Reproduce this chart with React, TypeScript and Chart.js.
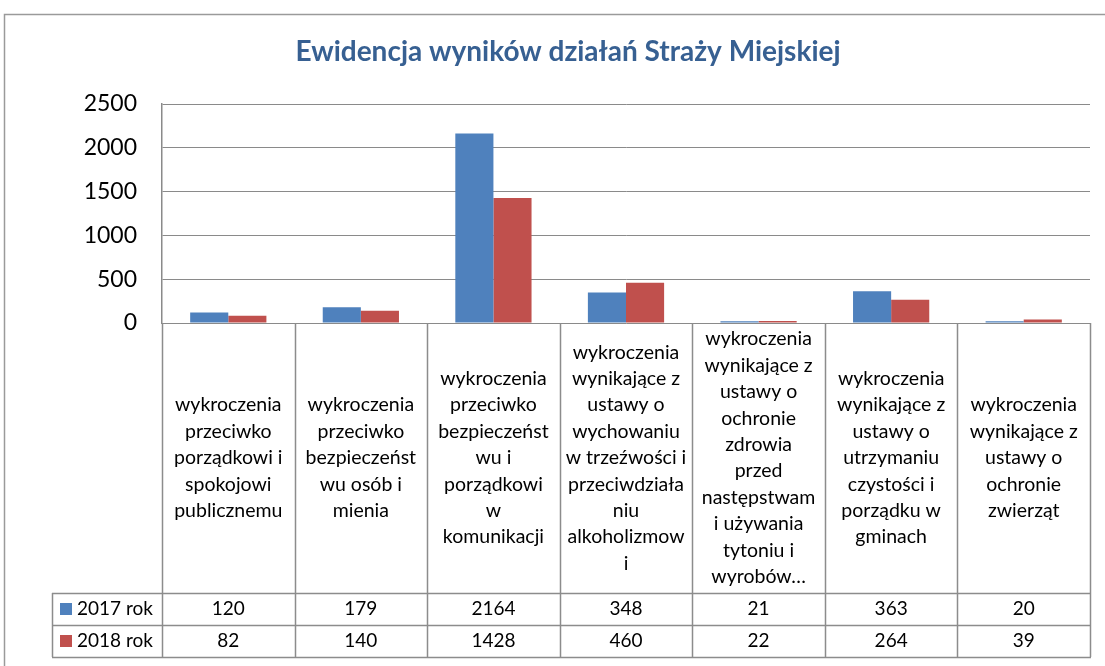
import React, { useEffect, useRef } from "react";
import { Chart, registerables } from "chart.js";

Chart.register(...registerables);

const chartTitle = "Ewidencja wyników działań Straży Miejskiej";

const categories: string[][] = [
  ["wykroczenia", "przeciwko", "porządkowi i", "spokojowi", "publicznemu"],
  ["wykroczenia", "przeciwko", "bezpieczeńst", "wu osób i", "mienia"],
  ["wykroczenia", "przeciwko", "bezpieczeńst", "wu i", "porządkowi", "w", "komunikacji"],
  ["wykroczenia", "wynikające z", "ustawy o", "wychowaniu", "w trzeźwości i", "przeciwdziała", "niu", "alkoholizmow", "i"],
  ["wykroczenia", "wynikające z", "ustawy o", "ochronie", "zdrowia", "przed", "następstwam", "i używania", "tytoniu i", "wyrobów…"],
  ["wykroczenia", "wynikające z", "ustawy o", "utrzymaniu", "czystości i", "porządku w", "gminach"],
  ["wykroczenia", "wynikające z", "ustawy o", "ochronie", "zwierząt"],
];

const seriesNames = ["2017 rok", "2018 rok"];
const values2017 = [120, 179, 2164, 348, 21, 363, 20];
const values2018 = [82, 140, 1428, 460, 22, 264, 39];
const seriesColors = ["#4F81BD", "#C0504D"];
const yTicks = [0, 500, 1000, 1500, 2000, 2500];

const FONT = "Lato, 'Open Sans', sans-serif";

const tablePlugin = {
  id: "excelTable",
  beforeDraw(chart: any) {
    const ctx = chart.ctx;
    ctx.save();
    ctx.fillStyle = "#ffffff";
    ctx.fillRect(0, 0, chart.width, chart.height);
    ctx.strokeStyle = "#9a9a9a";
    ctx.lineWidth = 1.5;
    ctx.strokeRect(4.5, 14.5, chart.width + 40, chart.height + 40);
    ctx.restore();
  },
  afterDraw(chart: any) {
    const { ctx, chartArea } = chart;
    const xs = chart.scales.x;
    const labels = chart.data.labels as string[][];
    const n = labels.length;
    const left = chartArea.left;
    const right = chartArea.right;
    const top = chartArea.bottom;
    const headerBottom = top + 270;
    const rowH = 32;
    const tableLeft = 52;
    const colW = (right - left) / n;
    const tableBottom = headerBottom + rowH * chart.data.datasets.length;

    ctx.save();
    // title
    ctx.fillStyle = "#376092";
    ctx.font = `bold 28px ${FONT}`;
    ctx.textAlign = "center";
    ctx.textBaseline = "middle";
    ctx.fillText(chartTitle, 568, 52);

    // table lines
    ctx.strokeStyle = "#8c8c8c";
    ctx.lineWidth = 1.5;
    ctx.beginPath();
    for (let i = 0; i <= n; i++) {
      const x = Math.round(left + i * colW) + 0.5;
      ctx.moveTo(x, top);
      ctx.lineTo(x, tableBottom);
    }
    ctx.moveTo(tableLeft + 0.5, headerBottom);
    ctx.lineTo(tableLeft + 0.5, tableBottom);
    for (let r = 0; r <= chart.data.datasets.length; r++) {
      const y = Math.round(headerBottom + r * rowH) + 0.5;
      ctx.moveTo(tableLeft, y);
      ctx.lineTo(right + 1, y);
    }
    ctx.stroke();

    // category labels
    ctx.fillStyle = "#000000";
    ctx.font = `19.5px ${FONT}`;
    const lh = 26.4;
    const cy = (top + headerBottom) / 2;
    labels.forEach((lines, i) => {
      const cx = xs.getPixelForValue(i);
      const start = cy - ((lines.length - 1) * lh) / 2;
      lines.forEach((line, k) => ctx.fillText(line, cx, start + k * lh));
    });

    // data rows
    ctx.font = `19px ${FONT}`;
    chart.data.datasets.forEach((ds: any, r: number) => {
      const y = headerBottom + r * rowH + rowH / 2;
      ctx.fillStyle = ds.backgroundColor;
      ctx.fillRect(60, y - 6, 12, 12);
      ctx.fillStyle = "#000000";
      ctx.textAlign = "left";
      ctx.fillText(ds.label, 77, y);
      ctx.textAlign = "center";
      ds.data.forEach((v: number, i: number) => {
        ctx.fillText(String(v), xs.getPixelForValue(i), y);
      });
    });
    ctx.restore();
  },
};

export default function App() {
  const ref = useRef<HTMLCanvasElement | null>(null);

  useEffect(() => {
    if (!ref.current) return;
    const chart = new Chart(ref.current, {
      type: "bar",
      data: {
        labels: categories,
        datasets: [
          { label: seriesNames[0], data: values2017, backgroundColor: seriesColors[0], borderWidth: 0 },
          { label: seriesNames[1], data: values2018, backgroundColor: seriesColors[1], borderWidth: 0 },
        ],
      },
      options: {
        responsive: false,
        animation: false,
        devicePixelRatio: 1,
        layout: { padding: { left: 0, right: 15, top: 104, bottom: 343 } },
        plugins: {
          legend: { display: false },
          title: { display: false },
          tooltip: { enabled: false },
        },
        datasets: { bar: { categoryPercentage: 0.575, barPercentage: 1.0 } },
        scales: {
          x: { display: false },
          y: {
            min: yTicks[0],
            max: yTicks[yTicks.length - 1],
            afterFit: (scale: any) => {
              scale.width = 162;
            },
            afterBuildTicks: (scale: any) => {
              scale.ticks = yTicks.map((v) => ({ value: v }));
            },
            ticks: {
              color: "#000000",
              font: { family: FONT, size: 23 },
              padding: 25,
              callback: (v: any) => String(v),
            },
            grid: { color: "#8a8a8a", lineWidth: 1, drawTicks: false },
            border: { display: true, color: "#8a8a8a", width: 1.5 },
          },
        },
      },
      plugins: [tablePlugin],
    });
    return () => chart.destroy();
  }, []);

  return (
    <div style={{ position: "fixed", left: 0, top: 0, width: 1105, height: 666, background: "#fff" }}>
      <canvas ref={ref} width={1105} height={666} style={{ display: "block" }} />
    </div>
  );
}
